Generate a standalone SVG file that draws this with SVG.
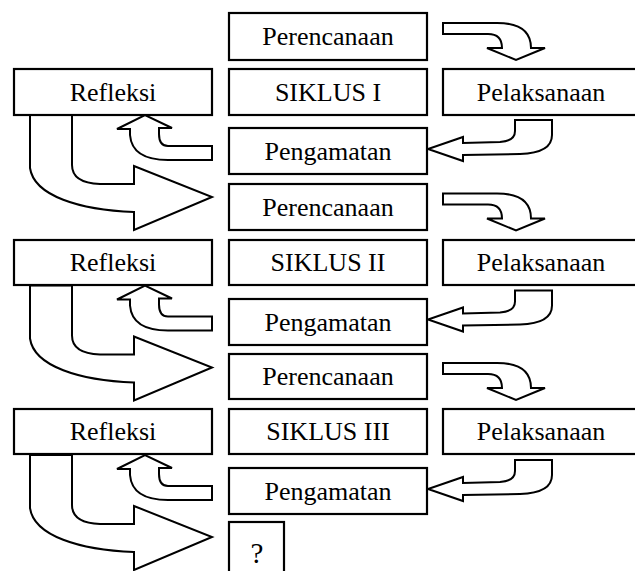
<svg xmlns="http://www.w3.org/2000/svg" width="635" height="571" viewBox="0 0 635 571">
<style>
.box{fill:#fff;stroke:#000;stroke-width:2.2}
.arr{fill:#fff;stroke:#000;stroke-width:2;stroke-linejoin:miter}
text{font-family:'Liberation Serif','Times New Roman',Times,'DejaVu Serif',serif;font-size:26px;fill:#000;text-anchor:middle}
</style>
<defs>
<g id="cycle-arrows">
<path class="arr" d="M443,23 L497,23 Q531,23 531,48 L545,48 L516,60 L487,48 L502,48 Q502,34 488,34 L443,34 Z"/>
<path class="arr" d="M515,120 L552,120 L552,135 Q552,153 520,154 L463,155 L463,161 L428,149 L463,137 L463,143 L500,142 Q515,141 515,131 Z"/>
<path class="arr" d="M212,146 L168,146 Q159,146 159,134 L159,128 L172,128 L145,115 L117,129 L130,129 L130,135 Q132,160 168,160 L212,160 Z"/>
<path class="arr" d="M30,115 L30,168 C34,196 80,210 134,212 L134,230 L212,197 L134,166 L134,184 L100,184 Q72,183 72,165 L72,115 Z"/>
</g>
</defs>
<g id="connectors">
<use href="#cycle-arrows"/>
<use href="#cycle-arrows" transform="translate(0,170.5)"/>
<use href="#cycle-arrows" transform="translate(0,340)"/>
</g>
<g font-family="Liberation Serif, serif" font-size="26" text-anchor="middle">
<g id="perencanaan-1"><rect class="box" x="229" y="13" width="198" height="47"/><text x="328" y="45">Perencanaan</text></g>
<g id="refleksi-1"><rect class="box" x="14" y="69" width="198" height="46"/><text x="113" y="101">Refleksi</text></g>
<g id="siklus-1"><rect class="box" x="229" y="69" width="198" height="46"/><text x="328" y="101">SIKLUS I</text></g>
<g id="pelaksanaan-1"><rect class="box" x="443" y="69" width="200" height="46"/><text x="541" y="101">Pelaksanaan</text></g>
<g id="pengamatan-1"><rect class="box" x="229" y="128" width="198" height="46"/><text x="328" y="160">Pengamatan</text></g>

<g id="perencanaan-2"><rect class="box" x="229" y="184" width="198" height="46"/><text x="328" y="216">Perencanaan</text></g>
<g id="refleksi-2"><rect class="box" x="14" y="240" width="198" height="45"/><text x="113" y="271">Refleksi</text></g>
<g id="siklus-2"><rect class="box" x="229" y="240" width="198" height="45"/><text x="328" y="271">SIKLUS II</text></g>
<g id="pelaksanaan-2"><rect class="box" x="443" y="240" width="200" height="45"/><text x="541" y="271">Pelaksanaan</text></g>
<g id="pengamatan-2"><rect class="box" x="229" y="299" width="198" height="46"/><text x="328" y="331">Pengamatan</text></g>

<g id="perencanaan-3"><rect class="box" x="229" y="354" width="198" height="45"/><text x="328" y="385">Perencanaan</text></g>
<g id="refleksi-3"><rect class="box" x="14" y="409" width="198" height="45"/><text x="113" y="440">Refleksi</text></g>
<g id="siklus-3"><rect class="box" x="229" y="409" width="198" height="45"/><text x="328" y="440">SIKLUS III</text></g>
<g id="pelaksanaan-3"><rect class="box" x="443" y="409" width="200" height="45"/><text x="541" y="440">Pelaksanaan</text></g>
<g id="pengamatan-3"><rect class="box" x="229" y="468" width="198" height="46"/><text x="328" y="500">Pengamatan</text></g>

<g id="next"><rect class="box" x="229" y="522" width="55" height="60"/><text x="257" y="563" style="font-size:29px">?</text></g>
</g>
</svg>
